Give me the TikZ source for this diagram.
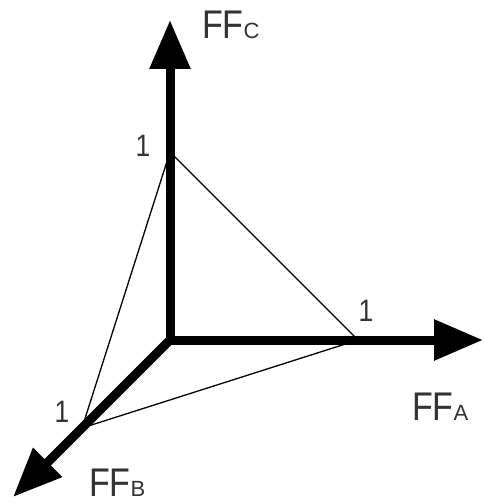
\documentclass[tikz,border=0pt]{standalone}
\usepackage{fontspec}
\setmainfont{Liberation Sans}
\usetikzlibrary{arrows.meta}
\tikzset{
  axis/.style={line width=9pt, -{Triangle[length=49pt,width=39pt]}},
  thin/.style={line width=1.3pt},
  lbl/.style={inner sep=0pt, text=black!80, font=\fontsize{40}{40}\selectfont},
  one/.style={inner sep=0pt, text=black!80, font=\fontsize{31}{31}\selectfont},
}
\newcommand{\axlab}[2]{\scalebox{0.85}[1]{#1}{\fontsize{22}{22}\selectfont #2}}
\begin{document}
\begin{tikzpicture}[x=1pt,y=-1pt]
\useasboundingbox (0,0) rectangle (484,503);
\coordinate (O) at (170,340);
\coordinate (Ostart) at (166,340);
\coordinate (A) at (358,340);
\coordinate (B) at (82,428);
\coordinate (C) at (170,152);
\coordinate (tipC) at (170,20);
\coordinate (tipA) at (483,340);
\coordinate (tipB) at (13,497);
\draw[thin] (C) -- (A) -- (B) -- cycle;
\draw[axis] (O) -- (tipC);
\draw[axis] (Ostart) -- (tipA);
\draw[axis] (O) -- (tipB);
\node[lbl, anchor=base west] (lc) at (202,38) {\axlab{FF}{C}};
\node[lbl, anchor=base west] (la) at (412,420) {\axlab{FF}{A}};
\node[lbl, anchor=base west] (lb) at (89,496) {\axlab{FF}{B}};
\node[one] (oc) at (143,146) {\scalebox{0.85}[1]{1}};
\node[one] (oa) at (366,311) {\scalebox{0.85}[1]{1}};
\node[one] (ob) at (62,412) {\scalebox{0.85}[1]{1}};
\end{tikzpicture}
\end{document}
